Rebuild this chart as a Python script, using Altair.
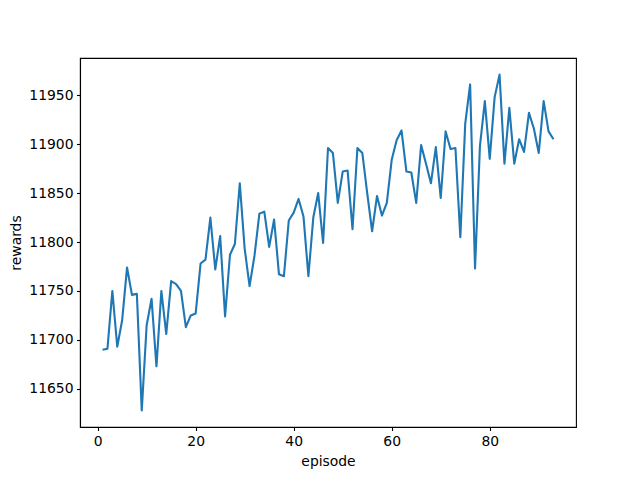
import altair as alt
import pandas as pd

episodes = list(range(1, 94))
rewards = [
    11690, 11691, 11750, 11693, 11720, 11774, 11746, 11747, 11628, 11715,
    11742, 11673, 11750, 11706, 11760, 11757, 11750, 11713, 11725, 11727,
    11778, 11782, 11825, 11772, 11806, 11724, 11787, 11798, 11860, 11793,
    11755, 11786, 11829, 11831, 11795, 11823, 11767, 11765, 11822, 11830,
    11844, 11826, 11765, 11825, 11850, 11799, 11896, 11891, 11840, 11872,
    11873, 11813, 11896, 11891, 11850, 11811, 11847, 11827, 11840, 11884,
    11904, 11914, 11872, 11871, 11840, 11899, 11880, 11860, 11897, 11845,
    11913, 11895, 11896, 11805, 11921, 11961, 11773, 11898, 11944, 11885,
    11948, 11971, 11880, 11937, 11880, 11905, 11892, 11932, 11916, 11891,
    11944, 11913, 11905,
]
x_ticks = [0, 20, 40, 60, 80]
y_ticks = [11650, 11700, 11750, 11800, 11850, 11900, 11950]

df = pd.DataFrame({"episode": episodes, "rewards": rewards})

chart = alt.Chart(df).mark_line(color="#1f77b4", strokeWidth=2.1, strokeJoin="round").encode(
    x=alt.X("episode:Q",
            scale=alt.Scale(domain=[-3.6, 97.6], nice=False, zero=False),
            axis=alt.Axis(values=x_ticks, title="episode", titlePadding=7, labelPadding=3.5)),
    y=alt.Y("rewards:Q",
            scale=alt.Scale(domain=[11611, 11988], nice=False, zero=False),
            axis=alt.Axis(values=y_ticks, title="rewards", titlePadding=5, labelPadding=3.5, format="d")),
).properties(
    width=496, height=369,
    autosize="none",
    padding={"left": 72, "top": 50, "right": 56, "bottom": 45},
).configure_view(
    stroke="black", strokeWidth=1.1
).configure_axis(
    grid=False,
    domainColor="black", domainWidth=1.1,
    tickColor="black", tickSize=3.5, tickWidth=1.1,
    labelFont="DejaVu Sans", labelFontSize=13.9, labelColor="black",
    titleFont="DejaVu Sans", titleFontSize=13.9, titleFontWeight="normal", titleColor="black",
)

chart.save("out.html", embed_options={"renderer": "svg", "actions": False})
